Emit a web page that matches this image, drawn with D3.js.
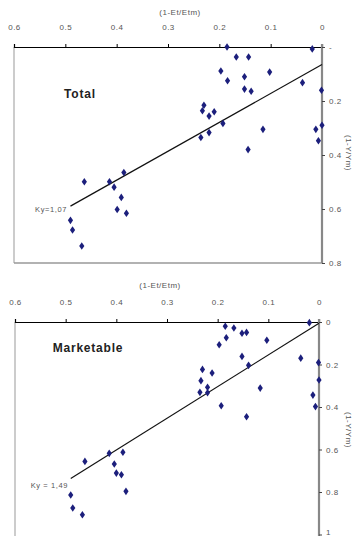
<!DOCTYPE html>
<html>
<head>
<meta charset="utf-8">
<script src="https://cdn.jsdelivr.net/npm/d3@7"></script>
<style>
  body { margin: 0; background: #fff; }
  svg text { font-family: "Liberation Sans", Arial, sans-serif; fill: #555; }
  .tick text { font-size: 8px; letter-spacing: 0.5px; }
</style>
</head>
<body>
<svg width="353" height="536"></svg>
<script>
// x: (1-Et/Etm), y: (1-Y/Ym)
var totalX = [0.185, 0.019, 0.167, 0.143, 0.197, 0.102, 0.184, 0.151, 0.038, 0.151, 0.138, 0.001,
  0.23, 0.233, 0.22, 0.21, 0.193, 0.115, 0.012, 0.0, 0.236, 0.22, 0.007, 0.144,
  0.386, 0.463, 0.414, 0.405, 0.391, 0.399, 0.381, 0.49, 0.486, 0.468];
var totalY = [0.0, 0.007, 0.037, 0.037, 0.089, 0.093, 0.125, 0.11, 0.132, 0.156, 0.164, 0.16,
  0.216, 0.236, 0.256, 0.24, 0.283, 0.305, 0.305, 0.29, 0.335, 0.317, 0.347, 0.38,
  0.465, 0.499, 0.499, 0.519, 0.557, 0.602, 0.616, 0.642, 0.678, 0.737];

var marketX = [0.019, 0.185, 0.168, 0.152, 0.143, 0.183, 0.103, 0.197, 0.152, 0.036, 0.139, 0.001,
  0.23, 0.211, 0.233, 0.22, 0.116, 0.0, 0.235, 0.22, 0.012, 0.007, 0.193, 0.143,
  0.414, 0.387, 0.462, 0.404, 0.4, 0.39, 0.381, 0.49, 0.486, 0.467];
var marketY = [0.003, 0.02, 0.028, 0.053, 0.049, 0.074, 0.086, 0.107, 0.162, 0.17, 0.204, 0.191,
  0.223, 0.24, 0.276, 0.307, 0.311, 0.273, 0.331, 0.333, 0.344, 0.398, 0.394, 0.446,
  0.618, 0.613, 0.656, 0.668, 0.711, 0.719, 0.797, 0.814, 0.875, 0.907];

var xTicks = [0, 0.1, 0.2, 0.3, 0.4, 0.5, 0.6];
var totalYTicks = [0, 0.2, 0.4, 0.6, 0.8];
var totalYLabels = ["-", "0.2", "0.4", "0.6", "0.8"];
var marketYTicks = [0, 0.2, 0.4, 0.6, 0.8, 1];
var marketYLabels = ["0", "0.2", "0.4", "0.6", "0.8", "1"];

// fitted lines: y = a + Ky * x, drawn from x = 0.49 down to 0
var fitA = [0.065, 0.006];
var fitK = [1.07, 1.49];
var fitX = [0.49, 0];
var kyLabels = ["Ky=1,07", "Ky = 1,49"];
var panelNames = ["Total", "Marketable"];

var svg = d3.select("svg");

var panels = [
  {name: panelNames[0], xs: totalX, ys: totalY, ticks: totalYTicks, labels: totalYLabels,
   left: 14, right: 322, top: 47, bottom: 263, yMax: 0.8, k: 0,
   titleY: 15, nameX: 80, nameY: 98, kyX: 67, kyY: 212, yLabY: 153},
  {name: panelNames[1], xs: marketX, ys: marketY, ticks: marketYTicks, labels: marketYLabels,
   left: 15, right: 319, top: 322, bottom: 534.5, yMax: 1, k: 1,
   titleY: 288, nameX: 88, nameY: 352, kyX: 68, kyY: 488, yLabY: 430}
];

panels.forEach(function (p) {
  var x = d3.scaleLinear().domain([0.6, 0]).range([p.left, p.right]);
  var y = d3.scaleLinear().domain([0, p.yMax]).range([p.top, p.bottom]);
  var g = svg.append("g");

  // left and bottom frame
  g.append("line").attr("x1", p.left).attr("x2", p.left).attr("y1", p.top).attr("y2", p.k ? 540 : p.bottom)
    .attr("stroke", "#999").attr("stroke-width", 1);
  if (!p.k) {
    g.append("line").attr("x1", p.left).attr("x2", p.right).attr("y1", p.bottom).attr("y2", p.bottom)
      .attr("stroke", "#999").attr("stroke-width", 1.5);
  }

  // top x axis
  var xa = g.append("g")
    .attr("transform", "translate(0," + p.top + ")")
    .call(d3.axisTop(x).tickValues(xTicks).tickSize(3).tickPadding(14).tickFormat(d3.format("")));
  xa.select(".domain").attr("stroke", "#000").attr("stroke-width", 1.2);
  xa.selectAll(".tick line").attr("stroke", "#000");

  g.append("text")
    .attr("x", p.k ? 160 : 180).attr("y", p.titleY)
    .attr("text-anchor", "middle").style("font-size", "8px").style("letter-spacing", "0.5px")
    .text("(1-Et/Etm)");

  // right y axis
  var ya = g.append("g")
    .attr("transform", "translate(" + p.right + ",0)")
    .call(d3.axisRight(y).tickValues(p.ticks).tickSize(3).tickPadding(4)
      .tickFormat(function (d, i) { return p.labels[i]; }));
  ya.select(".domain").attr("stroke", "#888").attr("stroke-width", 2.2)
    .attr("d", "M0," + (p.top - 3) + "V" + (p.k ? 540 : p.bottom));
  ya.selectAll(".tick line").attr("stroke", "#444");
  // keep the bottom label of the lower panel inside the window
  if (p.k) {
    ya.selectAll(".tick text").filter(function (d) { return d === p.yMax; }).attr("dy", "-0.05em");
  }

  g.append("text")
    .attr("transform", "translate(346," + p.yLabY + ") rotate(90)")
    .attr("text-anchor", "middle").style("font-size", "8px").style("letter-spacing", "0.5px")
    .text("(1-Y/Ym)");

  // fitted line
  g.append("line")
    .attr("x1", x(fitX[0])).attr("y1", y(fitA[p.k] + fitK[p.k] * fitX[0]))
    .attr("x2", x(fitX[1])).attr("y2", y(fitA[p.k] + fitK[p.k] * fitX[1]))
    .attr("stroke", "#111").attr("stroke-width", 1.2);

  g.append("text")
    .attr("x", p.kyX).attr("y", p.kyY).attr("text-anchor", "end")
    .style("font-size", "7.5px").style("letter-spacing", "0.6px")
    .text(kyLabels[p.k]);

  g.append("text")
    .attr("x", p.nameX).attr("y", p.nameY).attr("text-anchor", "middle")
    .style("font-size", "12px").style("font-weight", "bold").style("fill", "#222")
    .style("letter-spacing", "0.8px")
    .text(p.name);

  // points
  g.selectAll(".pt")
    .data(p.xs.map(function (v, i) { return [v, p.ys[i]]; }))
    .enter().append("path")
    .attr("class", "pt")
    .attr("transform", function (d) { return "translate(" + x(d[0]) + "," + y(d[1]) + ")"; })
    .attr("d", "M0,-3.8L2.6,0L0,3.8L-2.6,0Z")
    .attr("fill", "#1c1f7c");
});
</script>
</body>
</html>
